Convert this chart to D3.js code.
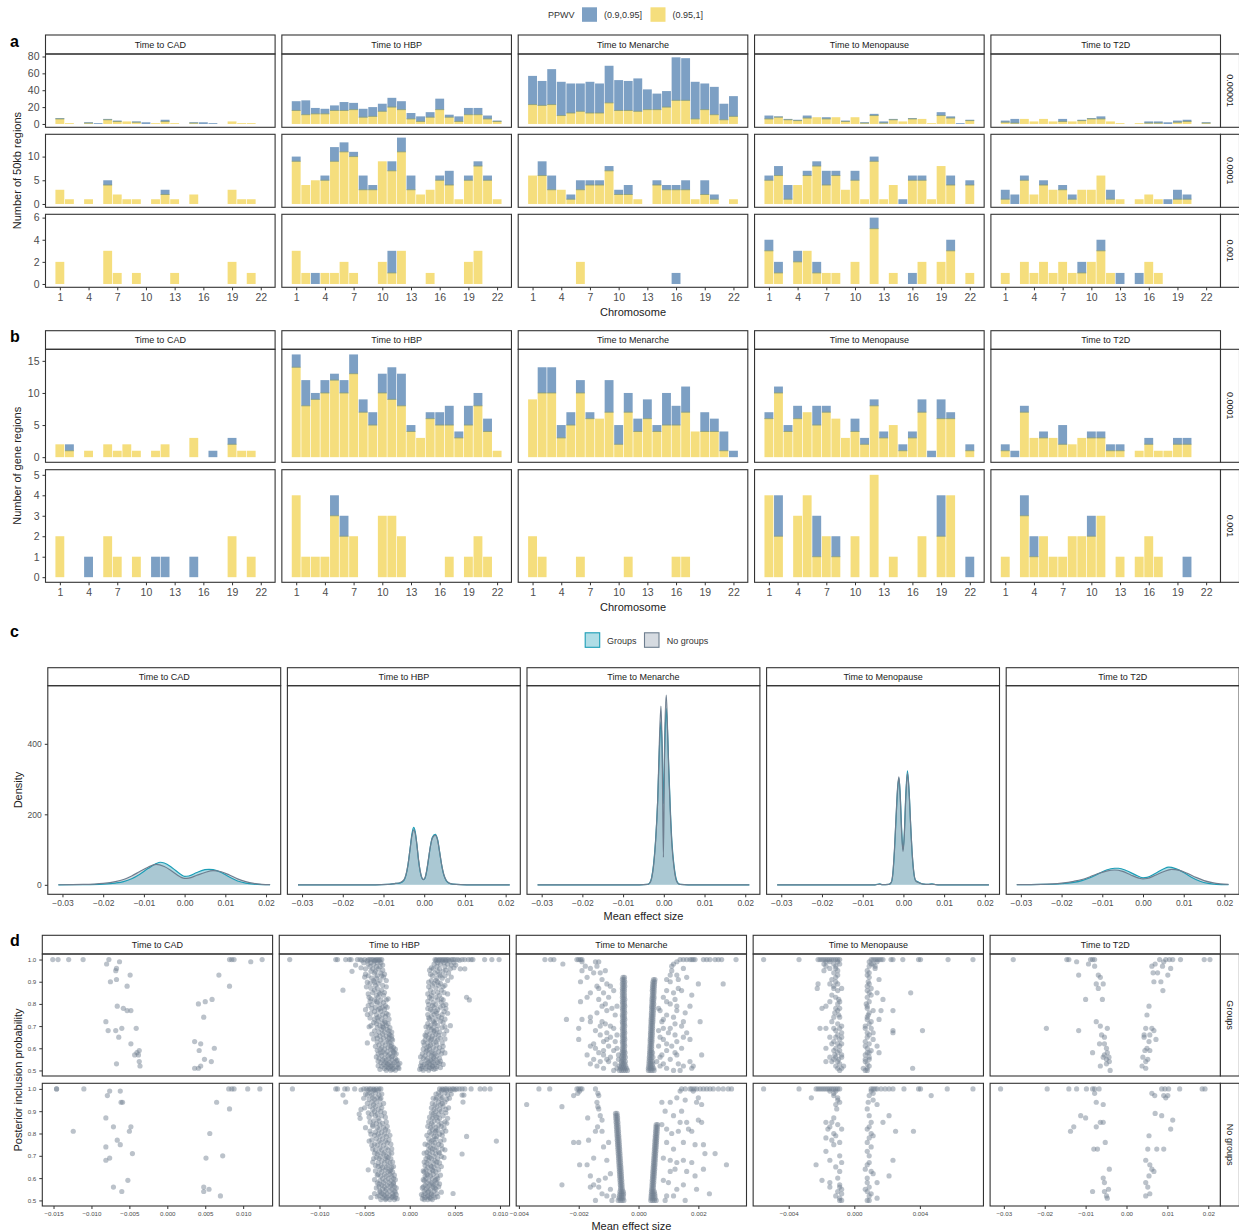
<!DOCTYPE html>
<html>
<head>
<meta charset="utf-8">
<script src="https://cdn.jsdelivr.net/npm/d3@7"></script>
<style>
  body { margin: 0; background: #fff; }
  svg { display: block; }
</style>
</head>
<body>
<script>
// ---------------------------------------------------------------------------
// Shared categories
// ---------------------------------------------------------------------------
const traits = ["Time to CAD", "Time to HBP", "Time to Menarche", "Time to Menopause", "Time to T2D"];
const chromosomes = [1, 2, 3, 4, 5, 6, 7, 8, 9, 10, 11, 12, 13, 14, 15, 16, 17, 18, 19, 20, 21, 22];
const chromTicks = [1, 4, 7, 10, 13, 16, 19, 22];
const ppwvLevels = ["(0.9,0.95]", "(0.95,1]"];

// ---------------------------------------------------------------------------
// a: number of 50kb regions per chromosome (rows = traits, in `traits` order)
// "hi" = PPWV in (0.95,1], "mid" = PPWV in (0.9,0.95]
// ---------------------------------------------------------------------------
const kb50Thresholds = ["0.00001", "0.0001", "0.001"];
const kb50_p1e5_hi = [
  [6, 1, 0, 1, 0, 5, 3, 3, 2, 0, 1, 3, 1, 0, 1, 0, 0, 0, 3, 1, 1, 0],
  [16, 11, 12, 12, 16, 16, 17, 8, 9, 15, 20, 17, 6, 3, 8, 17, 8, 3, 11, 11, 6, 3],
  [23, 22, 23, 10, 13, 15, 13, 13, 25, 16, 16, 15, 17, 17, 20, 28, 28, 6, 17, 11, 5, 9],
  [6, 8, 5, 4, 7, 8, 6, 8, 3, 8, 1, 10, 1, 5, 3, 6, 6, 1, 10, 7, 0, 4],
  [2, 1, 6, 3, 6, 3, 3, 3, 4, 6, 6, 3, 1, 0, 1, 1, 1, 0, 2, 3, 0, 1]
];
const kb50_p1e5_mid = [
  [1, 0, 0, 1, 1, 1, 1, 0, 1, 2, 0, 2, 0, 0, 1, 2, 1, 0, 0, 0, 0, 0],
  [11, 17, 7, 6, 6, 10, 8, 10, 11, 9, 11, 10, 7, 6, 6, 13, 3, 6, 8, 8, 4, 1],
  [34, 29, 42, 40, 35, 33, 37, 35, 44, 36, 35, 39, 24, 19, 19, 51, 50, 44, 31, 33, 19, 24],
  [4, 1, 1, 1, 3, 0, 2, 0, 1, 0, 1, 2, 2, 1, 0, 1, 0, 0, 4, 2, 1, 1],
  [2, 5, 0, 0, 0, 0, 3, 0, 1, 1, 3, 0, 0, 0, 0, 2, 2, 2, 2, 2, 0, 1]
];
const kb50_p1e4_hi = [
  [3, 1, 0, 1, 0, 4, 2, 1, 1, 0, 1, 2, 1, 0, 2, 0, 0, 0, 3, 1, 1, 0],
  [9, 4, 5, 5, 9, 11, 10, 3, 3, 9, 7, 11, 3, 2, 3, 5, 4, 1, 5, 8, 5, 1],
  [6, 6, 3, 3, 1, 3, 4, 4, 7, 2, 2, 1, 0, 4, 3, 3, 3, 1, 2, 1, 0, 1],
  [5, 6, 1, 4, 6, 8, 4, 6, 3, 5, 1, 9, 1, 4, 0, 5, 5, 1, 8, 4, 0, 4],
  [1, 0, 5, 2, 4, 3, 3, 1, 3, 3, 6, 1, 1, 0, 1, 2, 1, 0, 1, 1, 0, 0]
];
const kb50_p1e4_mid = [
  [0, 0, 0, 0, 0, 1, 0, 0, 0, 0, 0, 1, 0, 0, 0, 0, 0, 0, 0, 0, 0, 0],
  [1, 0, 0, 1, 3, 2, 1, 3, 1, 0, 2, 3, 3, 0, 0, 1, 3, 0, 1, 1, 1, 0],
  [0, 3, 3, 0, 1, 2, 1, 1, 1, 1, 2, 0, 0, 1, 1, 1, 2, 0, 3, 1, 0, 0],
  [1, 2, 3, 0, 1, 1, 3, 1, 0, 2, 0, 1, 0, 0, 1, 1, 1, 0, 0, 2, 0, 1],
  [2, 2, 1, 0, 1, 0, 1, 1, 0, 0, 0, 2, 0, 0, 0, 0, 0, 1, 2, 1, 0, 0]
];
const kb50_p1e3_hi = [
  [2, 0, 0, 0, 0, 3, 1, 0, 1, 0, 0, 0, 1, 0, 0, 0, 0, 0, 2, 0, 1, 0],
  [3, 1, 0, 1, 1, 2, 1, 0, 0, 2, 1, 3, 0, 0, 1, 0, 0, 0, 2, 3, 0, 0],
  [0, 0, 0, 0, 0, 2, 0, 0, 0, 0, 0, 0, 0, 0, 0, 0, 0, 0, 0, 0, 0, 0],
  [3, 1, 0, 2, 3, 1, 1, 1, 0, 2, 0, 5, 0, 1, 0, 0, 2, 0, 2, 3, 0, 1],
  [1, 0, 2, 1, 2, 1, 2, 1, 1, 2, 3, 1, 0, 0, 0, 2, 1, 0, 0, 0, 0, 0]
];
const kb50_p1e3_mid = [
  [0, 0, 0, 0, 0, 0, 0, 0, 0, 0, 0, 0, 0, 0, 0, 0, 0, 0, 0, 0, 0, 0],
  [0, 0, 1, 0, 0, 0, 0, 0, 0, 0, 2, 0, 0, 0, 0, 0, 0, 0, 0, 0, 0, 0],
  [0, 0, 0, 0, 0, 0, 0, 0, 0, 0, 0, 0, 0, 0, 0, 1, 0, 0, 0, 0, 0, 0],
  [1, 1, 0, 1, 0, 1, 0, 0, 0, 0, 0, 1, 0, 0, 0, 1, 0, 0, 0, 1, 0, 0],
  [0, 0, 0, 0, 0, 0, 0, 0, 1, 0, 1, 0, 1, 0, 1, 0, 0, 0, 0, 0, 0, 0]
];
const kb50YTicks = [[0, 20, 40, 60, 80], [0, 5, 10], [0, 2, 4, 6]];

// ---------------------------------------------------------------------------
// b: number of gene regions per chromosome
// ---------------------------------------------------------------------------
const geneThresholds = ["0.0001", "0.001"];
const gene_p1e4_hi = [
  [2, 1, 0, 1, 0, 2, 1, 2, 1, 0, 1, 2, 0, 0, 3, 0, 0, 0, 2, 1, 1, 0],
  [14, 8, 9, 10, 12, 10, 13, 7, 5, 10, 9, 8, 4, 3, 6, 5, 5, 3, 5, 8, 4, 1],
  [9, 10, 10, 3, 5, 10, 6, 6, 7, 2, 7, 4, 6, 4, 5, 5, 7, 4, 4, 4, 1, 0],
  [6, 10, 4, 6, 7, 5, 7, 6, 3, 4, 2, 8, 3, 5, 1, 3, 7, 0, 6, 6, 0, 1],
  [1, 0, 7, 3, 3, 3, 2, 2, 3, 3, 3, 1, 1, 0, 1, 2, 1, 1, 2, 2, 0, 0]
];
const gene_p1e4_mid = [
  [0, 1, 0, 0, 0, 0, 0, 0, 0, 0, 0, 0, 0, 0, 0, 0, 1, 0, 1, 0, 0, 0],
  [2, 4, 1, 2, 1, 2, 3, 2, 2, 3, 5, 5, 1, 0, 1, 2, 3, 1, 3, 2, 2, 0],
  [0, 4, 4, 2, 2, 2, 1, 0, 5, 3, 3, 2, 3, 1, 5, 3, 4, 0, 3, 2, 3, 1],
  [1, 1, 1, 2, 0, 3, 1, 0, 0, 2, 1, 1, 1, 0, 1, 1, 2, 1, 3, 1, 0, 1],
  [1, 1, 1, 0, 1, 0, 3, 0, 0, 1, 1, 1, 1, 0, 0, 1, 0, 0, 1, 1, 0, 0]
];
const gene_p1e3_hi = [
  [2, 0, 0, 0, 0, 2, 1, 0, 1, 0, 0, 0, 0, 0, 0, 0, 0, 0, 2, 0, 1, 0],
  [4, 1, 1, 1, 3, 2, 2, 0, 0, 3, 3, 2, 0, 0, 0, 0, 1, 0, 1, 2, 1, 0],
  [2, 1, 0, 0, 0, 1, 0, 0, 0, 0, 1, 0, 0, 0, 0, 1, 1, 0, 0, 0, 0, 0],
  [4, 2, 0, 3, 4, 1, 2, 1, 0, 2, 0, 5, 0, 1, 0, 0, 2, 0, 2, 4, 0, 0],
  [1, 0, 3, 1, 2, 1, 1, 2, 2, 2, 3, 0, 1, 0, 1, 2, 1, 0, 0, 0, 0, 0]
];
const gene_p1e3_mid = [
  [0, 0, 0, 1, 0, 0, 0, 0, 0, 0, 1, 1, 0, 0, 1, 0, 0, 0, 0, 0, 0, 0],
  [0, 0, 0, 0, 1, 1, 0, 0, 0, 0, 0, 0, 0, 0, 0, 0, 0, 0, 0, 0, 0, 0],
  [0, 0, 0, 0, 0, 0, 0, 0, 0, 0, 0, 0, 0, 0, 0, 0, 0, 0, 0, 0, 0, 0],
  [0, 2, 0, 0, 0, 2, 0, 1, 0, 0, 0, 0, 0, 0, 0, 0, 0, 0, 2, 0, 0, 1],
  [0, 0, 1, 1, 0, 0, 0, 0, 0, 1, 0, 0, 0, 0, 0, 0, 0, 0, 0, 1, 0, 0]
];
const geneYTicks = [[0, 5, 10, 15], [0, 1, 2, 3, 4, 5]];

// ---------------------------------------------------------------------------
// c: density of mean effect sizes, points [effect x 1000, density]
// ---------------------------------------------------------------------------
const groupLevels = ["Groups", "No groups"];
const dens_CAD_groups = [[-31,0],[-25,0.5],[-20,2],[-17,5],[-15,9],[-13,17],[-11,30],[-9,46],[-7,60],[-6,64],[-5,62],[-3,48],[-1,30],[0,24],[1,25],[3,35],[5,43],[6,44],[7,43],[9,35],[11,22],[13,11],[15,5],[17,2],[19,0.6],[21,0.2]];
const dens_CAD_nogroups = [[-31,0.2],[-25,1],[-20,4],[-17,9],[-15,15],[-13,25],[-11,38],[-9,50],[-7,58],[-5,52],[-3,38],[-1,22],[0,18],[1,19],[3,27],[5,35],[7,40],[9,37],[11,28],[13,17],[15,9],[17,4],[19,1.5],[21,0.5]];
const dens_HBP_groups = [[-31,0],[-12,0],[-9,1],[-7,4],[-6,5],[-5,12],[-4.5,26],[-4,55],[-3.5,100],[-3,145],[-2.6,163],[-2.2,150],[-1.8,115],[-1.4,70],[-1,38],[-0.6,20],[-0.2,15],[0.2,19],[0.6,38],[1,68],[1.5,108],[2,135],[2.7,143],[3.3,128],[3.8,92],[4.3,55],[4.8,28],[5.4,12],[6,5],[7,2],[9,0.5],[12,0],[21,0]];
const dens_HBP_nogroups = [[-31,0],[-12,0],[-9,1],[-7,4],[-6,6],[-5,14],[-4.5,28],[-4,56],[-3.5,98],[-3,140],[-2.6,156],[-2.2,146],[-1.8,114],[-1.4,72],[-1,40],[-0.6,21],[-0.2,15],[0.2,20],[0.6,40],[1,70],[1.5,108],[2,132],[2.7,140],[3.3,126],[3.8,92],[4.3,56],[4.8,30],[5.4,13],[6,6],[7,2],[9,0.5],[12,0],[21,0]];
const dens_Menarche_groups = [[-31,0],[-6,0],[-4,1],[-3.5,5],[-3,20],[-2.5,60],[-2,130],[-1.5,240],[-1.1,380],[-0.7,462],[-0.4,390],[-0.1,230],[0.2,380],[0.6,500],[0.9,440],[1.2,340],[1.6,215],[2,120],[2.5,55],[3,18],[3.5,5],[4,1],[6,0],[21,0]];
const dens_Menarche_nogroups = [[-31,0],[-6,0],[-4,1],[-3.5,4],[-3,18],[-2.5,55],[-2,125],[-1.5,240],[-1.1,400],[-0.7,507],[-0.4,380],[-0.1,78],[0.2,400],[0.6,538],[0.9,450],[1.2,330],[1.6,205],[2,112],[2.5,50],[3,15],[3.5,4],[4,1],[6,0],[21,0]];
const dens_Menopause_groups = [[-31,0],[-7,0],[-5.8,3],[-5.2,0.5],[-3.6,1],[-3,6],[-2.6,30],[-2.2,95],[-1.8,190],[-1.4,275],[-1.1,302],[-0.8,260],[-0.4,150],[-0.1,100],[0.2,140],[0.6,260],[1,323],[1.4,265],[1.8,165],[2.2,80],[2.6,30],[3,12],[3.5,9],[4,6],[5,2],[6,1],[7,3],[8,0.5],[9,0],[21,0]];
const dens_Menopause_nogroups = [[-31,0],[-7,0],[-5.8,2],[-5.2,0.5],[-3.6,1],[-3,7],[-2.6,32],[-2.2,100],[-1.8,195],[-1.4,280],[-1.1,306],[-0.8,255],[-0.4,140],[-0.1,94],[0.2,135],[0.6,250],[1,316],[1.4,262],[1.8,165],[2.2,82],[2.6,32],[3,12],[3.5,7],[4,5],[5,2],[6,1],[7,2],[8,0.5],[9,0],[21,0]];
const dens_T2D_groups = [[-31,0.3],[-25,1],[-20,3],[-17,7],[-15,12],[-13,20],[-11,31],[-9,42],[-7,47],[-6,47],[-4,40],[-2,29],[0,20],[1,21],[3,32],[5,45],[6.3,50],[8,46],[10,35],[12,21],[14,10],[16,4],[18,1.5],[21,0.5]];
const dens_T2D_nogroups = [[-31,0.5],[-25,1.5],[-20,5],[-17,10],[-15,15],[-13,23],[-11,32],[-9,39],[-7,42],[-5,38],[-3,28],[-1,19],[0,17],[1,18],[3,27],[5,37],[7,44],[9,41],[11,32],[13,21],[15,12],[17,6],[19,2.5],[21,1]];
const densTicksX = [-30, -20, -10, 0, 10, 20];
const densTicksY = [0, 200, 400];

// ---------------------------------------------------------------------------
// d: posterior inclusion probability vs mean effect size
// each row: [PIP, effect x 1000, effect x 1000, ...]
// ---------------------------------------------------------------------------
const pip_CAD_groups = [
  [1.00,-15.1,-14.4,-13.0,-11.1,-7.7,8.2,8.5,8.8,12.5],[0.99,-6.3,11.0],[0.98,-8.0],[0.96,-6.7],[0.95,-6.8],
  [0.93,-4.9,6.8],[0.91,-6.7],[0.90,-7.5],[0.88,-5.3,8.2],[0.82,5.9],[0.81,5.0],[0.80,4.1],[0.79,-6.6],
  [0.78,-5.8],[0.77,-5.3,-4.8],[0.74,4.8],[0.72,-8.1],[0.69,-6.0,-4.1],[0.68,-7.8,-6.8],[0.65,-6.4],
  [0.63,3.6],[0.62,-4.8,4.4],[0.60,6.2],[0.59,-3.7,4.2],[0.58,-4.0],[0.57,-4.3,-3.8],[0.55,4.9],
  [0.54,-3.7,5.8],[0.53,-6.7],[0.52,-3.6,4.4],[0.51,3.6,4.1]
];
const pip_CAD_nogroups = [
  [1.00,-14.6,-14.6,-11.0,8.1,8.5,8.8,10.6,12.2],[0.99,-7.6,-6.2],[0.97,-7.9],[0.94,-6.1,-5.9,6.5],[0.91,8.2],
  [0.87,-8.1],[0.83,-7.1,-4.8],[0.81,-5.0,-12.4],[0.80,5.6],[0.77,-6.6],[0.75,-6.2],[0.74,-8.1],[0.71,-4.6],
  [0.70,7.3],[0.69,-7.6,5.1],[0.68,-8.1],[0.59,-5.2],[0.56,-7.1,4.8],[0.55,5.5],[0.54,-6.0,4.8],[0.52,7.0]
];
const pip_HBP_groups = [
  [1.000,-13.3,-8.2,-8.0,-7.1,-6.7,-6.5,-5.8,-5.5,-5.0,-4.6,-4.4,-4.2,-4.0,-3.7,-3.5,-3.3,-3.1,2.8,3.0,3.3,3.5,3.7,3.9,4.1,4.3,4.6,4.8,5.0,5.3,5.8,6.1,6.5,6.8,7.0,8.3,9.1,9.9],
  [0.994,-4.7,-3.9,-3.4,2.9,3.6,4.0,4.4],[0.986,-5.1,-4.3,-3.6,-3.2,3.1,3.8,4.9],[0.979,-4.6,-4.0,2.7,3.4,4.2],
  [0.968,-4.4,-3.7,-3.3,3.0,3.9],[0.958,-4.9,-4.1,-3.5,2.6,3.3,4.5,5.6,6.1],[0.947,-6.4,-4.3,-3.8,3.1,3.7],
  [0.939,-3.9,-3.2,2.8,4.3],[0.927,-4.6,-3.6,-3.1,2.5,3.4,3.9],[0.916,-4.2,-3.7,3.0,3.6],
  [0.905,-4.0,-3.3,-2.6,2.4,2.9,4.2],[0.893,-4.4,-3.5,2.7,3.4],[0.884,-3.8,-3.0,2.5,3.2,3.9],
  [0.871,-4.3,-3.6,2.9],[0.862,-7.4,-3.9,-3.1,2.3,3.5],[0.851,-4.1,-3.4,-2.8,2.6,3.1,3.8],
  [0.839,-3.7,-2.9,2.4,3.3],[0.830,-4.5,-3.5,2.2,2.9,6.3],[0.818,-3.9,-3.2,-2.6,3.1,3.7,6.6],
  [0.806,-3.6,-2.9,2.6,3.5],[0.797,-4.2,-3.3,2.1,2.9,4.0],[0.785,-3.8,-3.0,-2.5,2.7,3.4],
  [0.774,-4.9,-3.5,-2.8,2.3,3.1],[0.766,-3.9,-3.2,2.5,2.9,3.8],[0.752,-4.7,-3.7,-3.0,-2.4,2.0,2.7,3.6],
  [0.743,-3.4,-2.7,2.4,3.2],[0.731,-3.9,-3.1,-2.3,2.2,2.9,3.9],[0.722,-3.5,-2.8,2.6,3.4],
  [0.711,-3.7,-3.0,-2.4,2.0,2.8],[0.702,-4.3,-3.3,-2.6,2.3,3.1,4.5],[0.693,-3.6,-2.9,-2.2,2.1,2.6,3.6],
  [0.684,-3.1,-2.5,2.4,3.0],[0.673,-3.4,-2.8,-2.0,1.9,2.7,3.3],[0.664,-4.2,-3.0,-2.3,2.2,2.9,3.8],
  [0.655,-3.3,-2.6,-2.0,1.8,2.5],[0.646,-3.6,-2.9,-2.3,2.1,2.8,3.4],[0.637,-3.2,-2.5,-1.9,1.7,2.3,3.1],
  [0.624,-4.7,-3.0,-2.2,2.0,2.6,3.6],[0.615,-3.4,-2.7,-2.0,1.6,2.3,3.0],[0.603,-3.1,-2.4,-1.8,1.9,2.6,3.3],
  [0.596,-3.3,-2.8,-2.1,-1.6,1.5,2.2,2.9],[0.584,-3.0,-2.5,-1.8,1.8,2.4,3.2],
  [0.575,-3.5,-2.7,-2.2,-1.5,1.4,2.1,2.8,3.5],[0.566,-3.1,-2.4,-1.9,1.7,2.4,3.0],
  [0.555,-3.4,-2.8,-2.3,-1.6,1.5,2.0,2.7,3.3],[0.547,-3.0,-2.6,-2.0,-1.4,1.8,2.3,2.9],
  [0.536,-3.2,-2.7,-2.2,-1.7,1.3,2.1,2.6,3.1],[0.527,-2.9,-2.4,-1.9,-1.3,1.6,2.2,2.8,3.7],
  [0.518,-3.1,-2.6,-2.1,-1.5,1.4,1.9,2.5,3.0],[0.509,-2.8,-2.3,-1.8,-1.2,1.3,1.8,2.4,2.9],
  [0.501,-2.6,-2.1,-1.6,1.5,2.1],
  [0.997,-5.3,-3.8,3.2,5.5],[0.975,-6.0,-3.0,4.6,5.1],[0.963,-5.4,2.4,4.9],[0.952,-3.0,2.2,4.0],
  [0.934,-4.9,-2.8,3.3,2.3],[0.921,-5.0,-2.9,4.6],[0.898,-4.7,-3.9,3.1,2.1],[0.877,-4.8,-2.6,3.7,2.1],
  [0.845,-4.6,-3.3,2.0,4.2],[0.823,-4.3,-2.4,3.5,2.4],[0.811,-4.4,-3.7,2.0],[0.792,-4.6,-2.7,3.7,2.5],
  [0.779,-4.2,-3.3,2.0,4.0],[0.758,-4.3,-2.6,3.0,4.2],[0.737,-4.4,-3.6,2.1,3.5],[0.716,-4.0,-2.7,2.7,3.7],
  [0.697,-4.5,-3.0,1.8,3.9],[0.679,-3.9,-2.3,2.7,4.1],[0.659,-3.7,-2.2,1.7,3.2],[0.642,-4.0,-2.0,2.4,3.9],
  [0.628,-3.6,-2.4,1.5,2.9],[0.609,-3.8,-2.1,2.1,3.7],[0.591,-3.6,-1.9,1.9,3.6],[0.579,-3.2,-1.7,2.6,3.9],
  [0.561,-3.7,-2.0,1.2,2.6],[0.542,-3.5,-1.5,2.4,3.4],[0.532,-2.5,-1.1,1.9,3.3],[0.521,-3.5,-2.0,1.2,2.5],
  [0.513,-2.4,-1.3,2.2,3.4],[0.505,-3.3,-1.9,1.1,2.7]
];
const pip_HBP_nogroups = [
  [1.000,-13.0,-8.2,-8.0,-7.2,-6.9,-6.1,-5.1,-4.8,-4.5,-4.3,-4.0,-3.7,-3.4,-3.2,3.3,3.6,3.9,4.1,4.4,4.7,4.9,5.2,5.5,5.8,6.1,6.8,7.8,8.3,8.9],
  [0.993,-4.6,-4.0,-3.5,3.5,4.1,4.5],[0.982,-4.4,-3.8,3.2,3.9],[0.972,-7.4,-4.7,-4.2,-3.4,3.4,4.2,5.8,6.0],
  [0.961,-4.1,-3.6,3.0,3.6],[0.953,-4.5,-3.9,-3.3,2.9,3.5,4.1],[0.941,-7.1,-4.2,-3.7,3.2,3.9,5.9],
  [0.929,-4.0,-3.3,2.8,3.4],[0.921,-4.4,-3.8,3.0,3.7],[0.908,-5.4,-4.1,-3.5,2.7,3.3,4.0],[0.899,-3.9,-3.2,2.9,3.5],
  [0.887,-5.6,-4.2,-3.6,2.6,3.2],[0.879,-3.8,-3.1,2.8,3.7],[0.868,-5.5,-3.5,2.5,3.3,4.2],[0.857,-4.0,-3.4,2.7,3.1],
  [0.846,-3.7,-3.0,2.4,3.5,4.1],[0.838,-4.1,-3.3,2.6,3.2],[0.826,-4.9,-3.6,-2.9,2.3,2.9,3.8],[0.817,-3.4,-2.7,2.5,3.1],
  [0.806,-3.8,-3.1,2.2,2.8,3.6],[0.797,-4.3,-3.5,-2.8,2.4,3.3],[0.787,-3.3,-2.6,2.7,3.0,6.3],[0.776,-3.7,-3.0,2.1,2.9],
  [0.766,-4.5,-3.4,-2.7,2.4,3.4,9.6],[0.758,-3.2,-2.5,2.2,2.8],[0.747,-4.2,-3.6,-2.9,2.0,2.6,3.5],
  [0.736,-3.3,-2.6,2.3,3.0],[0.727,-3.8,-3.1,-2.4,2.1,2.8,3.9],[0.716,-3.4,-2.8,1.9,2.5,3.2],
  [0.708,-3.6,-2.9,-2.3,2.2,2.9,5.8],[0.697,-3.2,-2.6,2.0,2.7,3.5],[0.688,-4.0,-3.4,-2.7,-2.1,1.8,2.4,3.1],
  [0.677,-3.1,-2.5,2.1,2.8],[0.668,-3.5,-2.8,-2.2,1.9,2.6,3.3],[0.656,-3.8,-3.2,-2.4,1.7,2.3,3.0],
  [0.648,-3.0,-2.6,-2.0,2.0,2.7],[0.637,-4.6,-3.3,-2.7,-2.1,1.8,2.5,3.2],[0.628,-3.1,-2.4,-1.9,1.6,2.2,2.9],
  [0.617,-3.5,-2.8,-2.2,1.9,2.6],[0.609,-3.2,-2.6,-2.0,1.7,2.3,3.0],[0.598,-3.0,-2.4,-1.8,1.8,2.5,3.1],
  [0.589,-3.3,-2.7,-2.1,1.6,2.1,2.8],[0.579,-3.6,-2.9,-2.3,-1.8,1.9,2.4,3.0],[0.569,-3.1,-2.5,-2.0,1.7,2.2,2.7],
  [0.561,-3.4,-2.8,-2.2,-1.7,1.5,2.0,2.6,3.2],[0.551,-3.0,-2.6,-2.0,1.8,2.3,2.9],
  [0.542,-3.3,-2.7,-2.2,-1.7,1.6,2.1,2.7],[0.531,-3.9,-3.1,-2.5,-1.9,1.7,2.4,3.0,4.8],
  [0.522,-3.4,-2.8,-2.3,-1.8,1.5,2.0,2.6],[0.513,-4.3,-3.0,-2.5,-2.0,-1.6,1.7,2.2,2.8],
  [0.504,-3.2,-2.7,-2.2,-1.7,1.6,2.0,2.5],
  [0.996,-5.4,-3.9,3.7,5.0],[0.977,-4.9,-3.1,2.9,4.6],[0.958,-5.1,-3.2,2.6,4.4],[0.935,-4.7,-2.9,3.6,2.5],
  [0.915,-5.0,-3.1,2.4,4.3],[0.893,-4.6,-2.8,2.4,4.0],[0.873,-4.5,-2.7,3.0,2.2],[0.852,-4.4,-2.6,2.1,3.9],
  [0.832,-4.1,-2.5,2.0,3.5],[0.811,-4.4,-2.4,2.9,4.0],[0.792,-3.9,-2.2,1.9,3.6],[0.771,-4.2,-2.3,2.6,3.8],
  [0.752,-3.9,-2.1,1.7,3.2],[0.731,-4.1,-2.0,2.5,3.6],[0.712,-3.9,-2.0,1.6,3.3],[0.692,-3.7,-2.4,2.2,3.8],
  [0.672,-4.1,-1.9,1.6,3.0],[0.652,-3.5,-1.8,2.4,3.5],[0.632,-3.8,-2.2,1.5,2.6],[0.613,-3.6,-1.7,2.0,3.4],
  [0.593,-3.9,-1.6,1.5,2.9],[0.574,-3.4,-1.8,2.5,3.3],[0.556,-3.7,-1.5,1.4,2.8],[0.537,-3.3,-1.6,2.0,3.5],
  [0.526,-2.9,-1.5,1.3,2.4],[0.517,-3.6,-1.9,2.0,3.1],[0.508,-2.6,-1.4,1.4,2.3]
];
const pip_Menarche_groups = [
  [1.00,-3.13,-2.94,-2.83,-2.06,-2.00,-1.94,-1.89,1.39,1.50,1.61,1.72,1.78,1.83,1.89,2.17,2.28,2.39,2.56,2.67,2.78,3.26],
  [0.99,-1.89,-1.44,-1.33,1.28],[0.98,-2.53,1.17],[0.97,-1.78,-1.39,1.11],[0.96,-1.61,1.50],[0.95,-1.89,-1.11,1.11],
  [0.94,-1.50,-1.28],[0.93,1.28,1.06],[0.92,-1.72,-0.52,-0.47,1.61],[0.91,-1.22,-0.54,-0.48,0.50,0.55,1.33,0.94],
  [0.90,-1.94,-0.52,-0.46,0.48,0.54,1.06],[0.89,-1.06,-0.54,-0.48,0.48,0.53,2.00,2.83],
  [0.88,-1.39,-0.94,-0.52,-0.46,0.47,0.53],[0.87,-1.33,-0.54,-0.48,0.47,0.52,1.33],
  [0.86,-0.83,-0.53,-0.47,0.46,0.52,0.94,1.44],[0.85,-1.61,-1.17,-0.54,-0.48,0.47,0.52,1.17],
  [0.84,-0.53,-0.47,0.46,0.51,1.78],[0.83,-1.72,-1.00,-0.54,-0.48,0.46,0.52,0.83],
  [0.82,-1.33,-0.52,-0.46,0.45,0.51,1.22],[0.81,-1.94,-0.54,-0.48,0.45,0.50,0.94],
  [0.80,-1.11,-0.53,-0.47,0.45,0.51,1.06],[0.79,-1.22,-0.72,-0.52,-0.46,0.44,0.50,1.28,1.72],
  [0.78,-0.89,-0.54,-0.48,0.44,0.49,0.67],[0.77,-1.06,-0.53,-0.47,0.44,0.50,0.72,1.28],
  [0.76,-1.39,-0.52,-0.46,0.43,0.49,1.56],[0.75,-0.78,-0.54,-0.48,0.43,0.49,0.94],
  [0.74,-1.61,-0.53,-0.47,0.43,0.48,1.17],[0.73,-2.41,-1.89,-0.52,-0.46,0.42,0.48,0.83],
  [0.72,-1.61,-1.22,-0.54,-0.48,0.42,0.48,0.78,1.50,2.06],[0.71,-1.11,-0.53,-0.47,0.42,0.47,1.22],
  [0.70,-1.28,-0.94,-0.52,-0.46,0.41,0.47,1.44],[0.69,-2.00,-0.83,-0.54,-0.48,0.41,0.47,0.83,1.06],
  [0.68,-1.44,-0.53,-0.47,0.41,0.46,0.67],[0.67,-1.06,-0.52,-0.46,0.40,0.46,1.00,1.61],
  [0.66,-1.28,-0.72,-0.54,-0.48,0.40,0.46,1.22],[0.65,-0.94,-0.53,-0.47,0.40,0.45,0.72,1.50],
  [0.64,-2.00,-1.06,-0.52,-0.46,0.39,0.45,0.83,1.72],[0.63,-1.17,-0.78,-0.54,-0.48,0.39,0.45,1.28],
  [0.62,-1.50,-0.53,-0.47,0.39,0.44,0.94],[0.61,-1.61,-1.00,-0.52,-0.46,0.38,0.44,0.67,1.11],
  [0.60,-1.44,-0.72,-0.54,-0.48,0.38,0.44,1.44],[0.59,-1.17,-0.83,-0.53,-0.47,0.38,0.43,0.94],
  [0.58,-1.33,-0.55,-0.50,-0.45,0.37,0.42,0.47,1.22],[0.57,-1.72,-1.17,-0.67,-0.54,-0.48,0.37,0.43,0.78,1.28,2.11],
  [0.56,-0.94,-0.56,-0.50,-0.44,0.36,0.42,0.48,0.72],[0.55,-1.50,-1.06,-0.67,-0.55,-0.49,0.36,0.42,1.06],
  [0.54,-1.28,-1.00,-0.57,-0.51,-0.44,0.35,0.41,0.47,0.61,1.72],
  [0.53,-1.61,-0.78,-0.58,-0.52,-0.46,0.35,0.41,0.48,0.83,1.33],
  [0.52,-1.39,-0.64,-0.57,-0.50,-0.43,0.34,0.40,0.46,0.72,1.50,1.83],
  [0.51,-1.17,-0.72,-0.60,-0.54,-0.47,-0.40,0.33,0.39,0.45,0.51,0.94,1.78],
  [0.50,-0.83,-0.64,-0.57,-0.51,-0.44,-0.37,0.33,0.39,0.45,0.52,1.17,1.39]
];
const pip_Menarche_nogroups = [
  [1.00,-3.33,-2.97,-2.06,-2.00,-1.94,-1.89,-1.44,1.44,1.56,1.72,1.78,1.86,1.94,2.06,2.17,2.28,2.39,2.50,2.67,2.83,3.00,3.11],
  [0.99,-1.97,1.39,1.83],[0.98,-2.03,-1.36],[0.97,-2.17,-1.33],[0.96,1.28,2.00],[0.95,1.56],
  [0.94,-1.39,0.78,1.06,1.94],[0.93,-3.74,2.11],[0.92,-2.56,-1.36],[0.91,-1.33],[0.90,0.89,1.44],
  [0.89,-0.77,-0.72],[0.88,-1.28,-0.76,-0.71,1.17],[0.87,-1.70,-0.76,-0.70],[0.86,-1.22,-0.75,-0.70,2.00],
  [0.85,-0.75,-0.69,1.39,1.61,2.11],[0.84,-0.74,-0.69,0.59,0.64,0.78],[0.83,-1.37,-0.74,-0.68,0.58,0.63],
  [0.82,-0.73,-0.68,0.58,0.63,0.94,1.67],[0.81,-1.44,-1.22,-0.73,-0.67,0.57,0.62,1.33,1.78],
  [0.80,-0.72,-0.67,0.57,0.62,1.11],[0.79,-0.72,-0.66,0.56,0.61],[0.78,-0.71,-0.66,0.56,0.61],
  [0.77,-1.67,-0.71,-0.65,0.55,0.60],[0.76,-2.17,-2.00,-1.00,-0.70,-0.65,0.55,0.60,0.94,1.50],
  [0.75,-0.70,-0.64,0.54,0.59,1.89,2.17],[0.74,-1.17,-0.69,-0.64,0.54,0.59],[0.73,-0.69,-0.63,0.53,0.58,1.17],
  [0.72,-0.68,-0.63,0.53,0.58],[0.71,-0.68,-0.62,0.52,0.57,2.22,2.56],[0.70,-0.67,-0.62,0.52,0.57],
  [0.69,-1.50,-0.67,-0.61,0.51,0.56,0.83],[0.68,-1.06,-0.66,-0.61,0.51,0.56,1.06,1.50],
  [0.67,-0.66,-0.60,0.50,0.55,1.28,1.78],[0.66,-1.97,-1.72,-0.65,-0.60,0.50,0.55,2.94],
  [0.65,-0.65,-0.59,0.49,0.54],[0.64,-0.64,-0.59,0.49,0.54,1.22,2.17],[0.63,-0.64,-0.58,0.48,0.53,1.06,1.61],
  [0.62,-0.94,-0.63,-0.58,0.48,0.53],[0.61,-1.61,-0.63,-0.57,0.47,0.52,1.89],[0.60,-1.11,-0.62,-0.57,0.47,0.52],
  [0.59,-1.33,-0.62,-0.56,0.46,0.51,0.83],[0.58,-0.61,-0.56,0.46,0.51,1.00],
  [0.57,-2.56,-1.50,-0.61,-0.55,0.45,0.50,1.50],[0.56,-1.61,-1.33,-0.60,-0.55,0.45,0.50],
  [0.55,-0.94,-0.60,-0.54,0.44,0.49,1.28,1.94],[0.54,-0.62,-0.56,-0.51,0.43,0.48,0.53],
  [0.53,-1.22,-0.62,-0.56,-0.50,0.43,0.48,0.54,2.37],
  [0.52,-1.06,-0.83,-0.64,-0.57,-0.51,0.42,0.48,0.55,0.94,1.17],[0.51,-0.65,-0.58,-0.52,0.42,0.48,0.55],
  [0.50,-1.44,-0.89,-0.68,-0.61,-0.55,-0.49,0.41,0.47,0.53,0.59,0.89,1.56]
];
const pip_Menopause_groups = [
  [1.00,-5.53,-3.37,-2.21,-2.09,-1.97,-1.85,-1.73,-1.61,-1.49,-1.37,-1.25,-1.13,-1.01,-0.89,1.03,1.15,1.27,1.39,1.51,1.63,1.75,2.24,2.36,2.96,3.92,4.04,5.72,7.24],
  [0.99,-1.73,-1.49,-1.01,0.91,1.39],[0.98,-1.85,-1.25,-0.89,1.15,1.03],[0.97,-1.73,-1.13,0.91,1.27],
  [0.96,-1.13,-1.49,1.27],[0.95,-1.85,-1.01,0.79],[0.94,-1.25,0.91],[0.93,-1.01,0.79],[0.92,-1.13,0.91],
  [0.91,-1.37,1.51],[0.90,-1.13,0.85],[0.89,-2.21,-1.49,-1.01,0.91],[0.88,-1.25,0.79],
  [0.87,-2.26,-1.25,-0.77,1.03],[0.86,-1.01,0.79],[0.85,1.39,3.44,0.91],[0.84,-1.37,1.03],[0.83,-1.13,0.79],
  [0.82,-0.95,1.75],[0.81,-1.49,-0.89,0.91],[0.80,-1.01,0.73],[0.79,-1.73,0.79],[0.78,-1.97,-1.13,-0.89,0.79],
  [0.77,-1.01,1.15,1.63,2.36],[0.76,-1.19,0.91],[0.75,-0.95,0.85],[0.74,-1.25,-0.89,0.79],[0.73,0.79,1.51],
  [0.72,-1.37,1.03],[0.71,-1.01,0.91],[0.70,-0.77,0.67],[0.69,-2.09,-1.73,-1.25,-0.89,0.67,1.03],
  [0.68,-1.13,2.36,4.16],[0.67,-0.77,0.79,1.15,2.36],[0.66,-1.01,0.91],[0.65,-1.49,-1.13,-0.77,0.79],
  [0.64,-0.89,1.15],[0.63,-1.25,0.67],[0.62,-1.37,-1.01,-0.77,0.91],[0.61,-0.89,0.67,1.39],
  [0.60,-1.73,-1.13,0.79],[0.59,-1.25,-0.89,1.03],[0.58,-1.01,0.79,0.91,1.51],[0.57,-0.77,-1.19,0.67],
  [0.56,-1.49,-1.13,-0.77,0.91],[0.55,-1.25,-0.95,0.91,0.67],[0.54,-1.73,-1.37,-1.01,0.67],
  [0.53,-0.89,0.79],[0.52,-1.13,-0.65,0.91],[0.51,-1.01,-0.77,0.55,0.79,3.56],[0.50,-0.89,0.67,0.79]
];
const pip_Menopause_nogroups = [
  [1.00,-5.53,-3.37,-2.33,-2.21,-2.09,-1.97,-1.85,-1.73,-1.61,-1.49,-1.37,-1.25,-1.13,-1.01,-0.89,1.03,1.15,1.27,1.39,1.63,1.88,2.12,2.36,3.03,3.92,4.04,5.67,7.24],
  [0.99,-1.49,-1.13,1.03],[0.98,-1.25,1.15],[0.97,-1.25,0.91,4.69],[0.96,-2.62,-1.01],[0.95,-1.01,1.15],
  [0.94,-0.89,0.85],[0.93,-1.13,1.39],[0.91,0.79,-1.07],[0.88,0.91,2.12],[0.87,-1.25],[0.85,-1.73,-1.37,1.03,1.75],
  [0.84,-1.01],[0.83,-1.49,0.91],[0.82,-1.61,-0.77,0.79],[0.81,2.52,3.61],[0.80,-1.25,1.03],[0.79,-1.13,1.15],
  [0.78,-1.73,0.91],[0.77,-1.37],[0.76,-0.89,0.79],[0.75,-1.25],[0.74,1.03],[0.72,-1.73,0.79],
  [0.70,-0.89,0.91],[0.68,-1.49,2.36],[0.67,-0.77,0.91],[0.66,-2.33,0.79],[0.65,-1.13],[0.64,0.67],
  [0.63,-0.89,1.03],[0.62,1.15],[0.61,2.12],[0.60,-1.01,0.79],[0.59,-1.97],[0.58,-1.49,0.79,1.39],
  [0.57,-0.89],[0.56,-1.49,-0.89,0.91],[0.55,-0.77,0.67],[0.54,-1.01,0.79],[0.53,-0.77,1.03],
  [0.52,-1.13,0.91],[0.51,-0.89,1.39],[0.50,-0.77,-0.89,0.91,0.79]
];
const pip_T2D_groups = [
  [1.00,-27.7,-14.6,-14.1,-8.8,-8.3,-7.8,8.1,9.6,10.5,11.3,13.2,19.0,20.4],[0.99,-12.2,9.1],[0.98,-9.3,7.0],
  [0.97,-7.8,6.2,8.8],[0.96,10.8],[0.94,6.5,7.6],[0.93,-11.7,-6.9,10.1],[0.92,-6.4],[0.90,6.7,8.4],
  [0.89,-7.4,-5.7],[0.87,-6.9],[0.86,8.9],[0.82,-10.0,-5.9],[0.79,5.5],[0.75,5.0],[0.72,-7.4],[0.70,-6.4],
  [0.69,-19.6,-4.7,4.7,6.2],[0.68,-11.7,6.7],[0.66,-6.1,4.3,5.7],[0.65,-5.4,4.3],[0.64,7.2],[0.63,5.5],
  [0.62,-6.6,-5.4],[0.60,-4.9,5.0],[0.59,4.5,5.7],[0.58,-8.3,-4.7],[0.57,-5.4],[0.56,-5.7,-4.3,4.0],
  [0.55,-4.9,5.2],[0.54,-4.2,4.7],[0.53,-4.9],[0.52,-6.4,3.8],[0.51,4.7],[0.50,-4.0]
];
const pip_T2D_nogroups = [
  [1.00,-30.8,-19.4,-14.1,-12.2,-9.8,-8.3,-7.8,-6.7,8.6,9.4,10.3,13.0,18.5,19.2],[0.98,-7.8,6.2],[0.97,6.9,9.1,10.1],
  [0.96,9.6],[0.94,-7.4],[0.93,-5.7],[0.89,7.0],[0.88,-11.2,8.6],[0.87,-10.0],[0.86,11.3],[0.85,-6.4,-5.7],
  [0.83,-12.9,-7.4],[0.82,10.8],[0.81,-13.7],[0.79,5.5],[0.76,-5.2],[0.73,-8.0,-7.1,5.2,7.4,9.1],[0.68,4.7],
  [0.66,5.7],[0.64,-4.2,6.2],[0.63,6.7],[0.61,5.5],[0.60,-5.7],[0.58,-5.4,4.7],[0.56,5.2],[0.55,-4.4],
  [0.54,-8.3,-5.4],[0.53,5.7],[0.52,-4.9,4.7],[0.51,-4.7]
];
const pipTicks = [0.5, 0.6, 0.7, 0.8, 0.9, 1.0];
const effectTicksD = [[-15, -10, -5, 0, 5, 10], [-10, -5, 0, 5, 10], [-4, -2, 0, 2], [-4, 0, 4], [-30, -20, -10, 0, 10, 20]];
const effectDigitsD = [3, 3, 3, 3, 2];

// ---------------------------------------------------------------------------
// Drawing
// ---------------------------------------------------------------------------
const W = 1239, H = 1232;
const FONT = '"Liberation Sans", Arial, Helvetica, sans-serif';
const INK = "#1a1a1a", AXIS_TXT = "#4d4d4d", FRAME = "#333333";
const PPWV_COLORS = { "(0.9,0.95]": "#7DA0C4", "(0.95,1]": "#F5DE7D" };
const GROUP_FILL = { "Groups": "#4FB3C8", "No groups": "#A3AFBD" };
const GROUP_LINE = { "Groups": "#1C9DB6", "No groups": "#6E7E8F" };
const POINT_FILL = "#708090";

const svg = d3.select("body").append("svg").attr("width", W).attr("height", H);
svg.append("rect").attr("width", W).attr("height", H).attr("fill", "#fff");

const expand = (lo, hi, f = 0.05) => { const d = (hi - lo) * f; return [lo - d, hi + d]; };

function addText(x, y, str, o = {}) {
  const t = svg.append("text").attr("x", x).attr("y", y).text(str)
    .attr("font-family", FONT).attr("font-size", o.size || 9)
    .attr("fill", o.fill || INK).attr("text-anchor", o.anchor || "start");
  if (o.weight) t.attr("font-weight", o.weight);
  if (o.rotate) t.attr("transform", `rotate(${o.rotate},${x},${y})`);
  return t;
}
function frame(x, y, w, h) {
  svg.append("rect").attr("x", x).attr("y", y).attr("width", w).attr("height", h)
    .attr("fill", "none").attr("stroke", FRAME).attr("stroke-width", 1.1);
}
function topStrip(x, y, w, h, label) {
  svg.append("rect").attr("x", x).attr("y", y).attr("width", w).attr("height", h)
    .attr("fill", "#fff").attr("stroke", FRAME).attr("stroke-width", 1.1);
  addText(x + w / 2, y + h / 2 + 3.2, label, { anchor: "middle", size: 9 });
}
function sideStrip(x, y, w, h, label) {
  svg.append("rect").attr("x", x).attr("y", y).attr("width", w).attr("height", h)
    .attr("fill", "#fff").attr("stroke", FRAME).attr("stroke-width", 1.1);
  addText(x + w / 2 - 3.2, y + h / 2, label, { anchor: "middle", size: 9, rotate: 90 });
}
function styleAxis(g, fs) {
  g.attr("font-size", fs).attr("font-family", FONT);
  g.select(".domain").remove();
  g.selectAll(".tick line").attr("stroke", FRAME);
  g.selectAll(".tick text").attr("fill", AXIS_TXT);
}
function bottomAxis(scale, y, ticks, fmt, fs) {
  const g = svg.append("g").attr("transform", `translate(0,${y})`)
    .call(d3.axisBottom(scale).tickValues(ticks).tickFormat(fmt).tickSize(3).tickPadding(3));
  styleAxis(g, fs);
}
function leftAxis(scale, x, ticks, fmt, fs) {
  const g = svg.append("g").attr("transform", `translate(${x},0)`)
    .call(d3.axisLeft(scale).tickValues(ticks).tickFormat(fmt).tickSize(3).tickPadding(3));
  styleAxis(g, fs);
}

// ---- top legend (PPWV) ----
addText(548, 17.5, "PPWV", { size: 9, fill: "#333" });
const ppwvLegendX = [582, 650.5];
ppwvLevels.forEach((lvl, i) => {
  svg.append("rect").attr("x", ppwvLegendX[i]).attr("y", 7.3).attr("width", 15).attr("height", 14.5)
    .attr("fill", PPWV_COLORS[lvl]);
  addText(ppwvLegendX[i] + 22, 17.5, lvl, { size: 9, fill: "#333" });
});

// ---- a / b: stacked bar grids ----
const AB_LEFT0 = 45.5, AB_STEP = 236.35, AB_W = 229.6, SIDE_W = 19;

function drawCountGrid({ stripTop, rowsY, hiSets, midSets, yTickSets, rowLabels }) {
  traits.forEach((trait, ci) => {
    const x0 = AB_LEFT0 + ci * AB_STEP;
    const x = d3.scaleLinear().domain([-0.5, 23.5]).range([x0, x0 + AB_W]);
    topStrip(x0, stripTop, AB_W, rowsY[0][0] - stripTop, trait);
    rowsY.forEach(([top, bottom], ri) => {
      const hi = hiSets[ri], mid = midSets[ri];
      const rowMax = d3.max(traits, (_, k) => d3.max(chromosomes, (c, j) => hi[k][j] + mid[k][j]));
      const y = d3.scaleLinear().domain(expand(0, rowMax)).range([bottom, top]);
      const recs = chromosomes.map((c, j) => ({ chr: c, "(0.95,1]": hi[ci][j], "(0.9,0.95]": mid[ci][j] }));
      const layers = d3.stack().keys(["(0.95,1]", "(0.9,0.95]"])(recs);
      const g = svg.append("g");
      layers.forEach(layer => {
        g.selectAll(null).data(layer.filter(d => d[1] > d[0])).join("rect")
          .attr("x", d => x(d.data.chr - 0.5) + 0.35)
          .attr("width", d => x(d.data.chr + 0.5) - x(d.data.chr - 0.5) - 0.7)
          .attr("y", d => y(d[1]))
          .attr("height", d => y(d[0]) - y(d[1]))
          .attr("fill", PPWV_COLORS[layer.key]);
      });
      // thin seam where the two classes meet
      g.selectAll(null).data(recs.filter(d => d["(0.95,1]"] > 0 && d["(0.9,0.95]"] > 0)).join("line")
        .attr("x1", d => x(d.chr - 0.5) + 0.35).attr("x2", d => x(d.chr + 0.5) - 0.35)
        .attr("y1", d => y(d["(0.95,1]"])).attr("y2", d => y(d["(0.95,1]"]))
        .attr("stroke", "#869a72").attr("stroke-width", 0.8);
      frame(x0, top, AB_W, bottom - top);
      if (ci === 0) leftAxis(y, x0, yTickSets[ri], d3.format("d"), 10.5);
      if (ci === traits.length - 1) sideStrip(x0 + AB_W, top, SIDE_W, bottom - top, rowLabels[ri]);
      if (ri === rowsY.length - 1) bottomAxis(x, bottom, chromTicks, d3.format("d"), 10.5);
    });
  });
}

// a
addText(10, 46.5, "a", { size: 16, weight: "bold", fill: "#000" });
drawCountGrid({
  stripTop: 35,
  rowsY: [[54, 127.3], [134.3, 207.3], [214.3, 287.3]],
  hiSets: [kb50_p1e5_hi, kb50_p1e4_hi, kb50_p1e3_hi],
  midSets: [kb50_p1e5_mid, kb50_p1e4_mid, kb50_p1e3_mid],
  yTickSets: kb50YTicks,
  rowLabels: kb50Thresholds
});
addText(633, 316, "Chromosome", { anchor: "middle", size: 11, fill: "#222" });
addText(21.5, 170.6, "Number of 50kb regions", { anchor: "middle", size: 11, fill: "#222", rotate: -90 });

// b
addText(10, 342, "b", { size: 16, weight: "bold", fill: "#000" });
drawCountGrid({
  stripTop: 330.7,
  rowsY: [[349.3, 462.3], [469.7, 582.3]],
  hiSets: [gene_p1e4_hi, gene_p1e3_hi],
  midSets: [gene_p1e4_mid, gene_p1e3_mid],
  yTickSets: geneYTicks,
  rowLabels: geneThresholds
});
addText(633, 611, "Chromosome", { anchor: "middle", size: 11, fill: "#222" });
addText(21.5, 465.8, "Number of gene regions", { anchor: "middle", size: 11, fill: "#222", rotate: -90 });

// ---- c: density panels ----
addText(10, 637, "c", { size: 16, weight: "bold", fill: "#000" });
const densByTrait = [
  [dens_CAD_groups, dens_CAD_nogroups],
  [dens_HBP_groups, dens_HBP_nogroups],
  [dens_Menarche_groups, dens_Menarche_nogroups],
  [dens_Menopause_groups, dens_Menopause_nogroups],
  [dens_T2D_groups, dens_T2D_nogroups]
];
const C_LEFT0 = 47.8, C_STEP = 239.6, C_W = 232.9, C_STRIP = 667.7, C_TOP = 685.7, C_BOT = 894.3;
const allDens = densByTrait.flat(2);
const cxExt = d3.extent(allDens, d => d[0] / 1000);
const cyMax = d3.max(allDens, d => d[1]);
const yC = d3.scaleLinear().domain(expand(0, cyMax)).range([C_BOT, C_TOP]);

// legend
const groupLegendX = [585.2, 644.5], groupLegendTxt = [607, 666.7];
groupLevels.forEach((lvl, i) => {
  svg.append("rect").attr("x", groupLegendX[i]).attr("y", 632.8).attr("width", 14.5).attr("height", 14.5)
    .attr("fill", GROUP_FILL[lvl]).attr("fill-opacity", 0.45)
    .attr("stroke", GROUP_LINE[lvl]).attr("stroke-width", 1.1);
  addText(groupLegendTxt[i], 643.5, lvl, { size: 9, fill: "#333" });
});

traits.forEach((trait, ci) => {
  const x0 = C_LEFT0 + ci * C_STEP;
  const x = d3.scaleLinear().domain(expand(cxExt[0], cxExt[1])).range([x0, x0 + C_W]);
  topStrip(x0, C_STRIP, C_W, C_TOP - C_STRIP, trait);
  const area = d3.area().curve(d3.curveMonotoneX).x(d => x(d[0] / 1000)).y0(yC(0)).y1(d => yC(d[1]));
  const line = d3.line().curve(d3.curveMonotoneX).x(d => x(d[0] / 1000)).y(d => yC(d[1]));
  const g = svg.append("g");
  densByTrait[ci].forEach((pts, gi) => {
    g.append("path").attr("d", area(pts)).attr("fill", GROUP_FILL[groupLevels[gi]]).attr("fill-opacity", 0.45);
  });
  densByTrait[ci].forEach((pts, gi) => {
    g.append("path").attr("d", line(pts)).attr("fill", "none")
      .attr("stroke", GROUP_LINE[groupLevels[gi]]).attr("stroke-width", 1.2);
  });
  frame(x0, C_TOP, C_W, C_BOT - C_TOP);
  if (ci === 0) leftAxis(yC, x0, densTicksY, d3.format("d"), 8.5);
  bottomAxis(x, C_BOT, densTicksX.map(v => v / 1000), d3.format(".2f"), 8.5);
});
addText(643.5, 920, "Mean effect size", { anchor: "middle", size: 11, fill: "#222" });
addText(21.5, 790, "Density", { anchor: "middle", size: 11, fill: "#222", rotate: -90 });

// ---- d: PIP scatter grid ----
addText(10, 946, "d", { size: 16, weight: "bold", fill: "#000" });
const pipByTrait = [
  [pip_CAD_groups, pip_CAD_nogroups],
  [pip_HBP_groups, pip_HBP_nogroups],
  [pip_Menarche_groups, pip_Menarche_nogroups],
  [pip_Menopause_groups, pip_Menopause_nogroups],
  [pip_T2D_groups, pip_T2D_nogroups]
];
const unpack = rows => rows.flatMap(([p, ...xs]) => xs.map(v => ({ effect: v / 1000, pip: p })));
const D_LEFT0 = 42.3, D_STEP = 236.95, D_W = 230.3, D_STRIP = 935.3;
const D_ROWS = [[954, 1076], [1083.3, 1206]];

traits.forEach((trait, ci) => {
  const x0 = D_LEFT0 + ci * D_STEP;
  const sets = pipByTrait[ci].map(unpack);
  const ext = d3.extent(sets.flat(), d => d.effect);
  const x = d3.scaleLinear().domain(expand(ext[0], ext[1])).range([x0, x0 + D_W]);
  topStrip(x0, D_STRIP, D_W, D_ROWS[0][0] - D_STRIP, trait);
  D_ROWS.forEach(([top, bottom], ri) => {
    const y = d3.scaleLinear().domain(expand(0.5, 1.0)).range([bottom, top]);
    svg.append("g").selectAll("circle").data(sets[ri]).join("circle")
      .attr("cx", d => x(d.effect)).attr("cy", d => y(d.pip)).attr("r", 2.6)
      .attr("fill", POINT_FILL).attr("fill-opacity", 0.48);
    frame(x0, top, D_W, bottom - top);
    if (ci === 0) leftAxis(y, x0, pipTicks, d3.format(".1f"), 6.2);
    if (ci === traits.length - 1) sideStrip(x0 + D_W, top, SIDE_W, bottom - top, groupLevels[ri]);
    if (ri === D_ROWS.length - 1)
      bottomAxis(x, bottom, effectTicksD[ci].map(v => v / 1000), d3.format(`.${effectDigitsD[ci]}f`), 6.2);
  });
});
addText(631.4, 1230, "Mean effect size", { anchor: "middle", size: 11, fill: "#222" });
addText(21.5, 1080, "Posterior inclusion probability", { anchor: "middle", size: 11, fill: "#222", rotate: -90 });
</script>
</body>
</html>
